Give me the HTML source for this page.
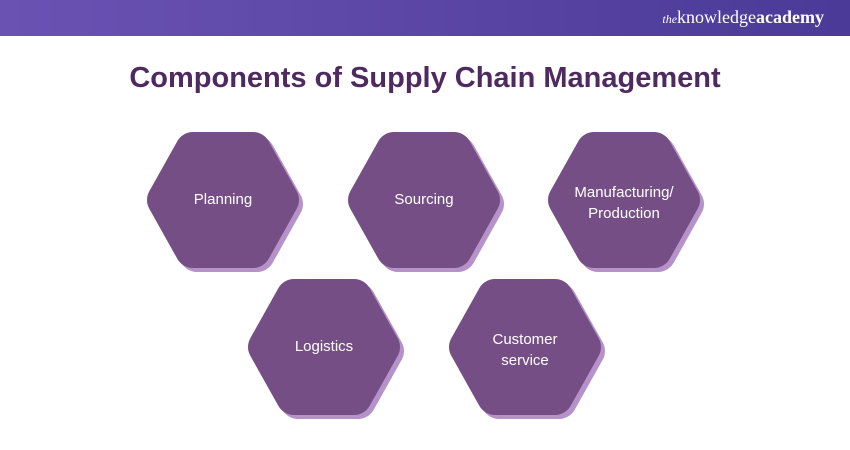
<!DOCTYPE html>
<html><head><style>
body{margin:0;width:850px;height:450px;background:#fff;overflow:hidden;font-family:"Liberation Sans",sans-serif}
.bar{position:absolute;left:0;top:0;width:850px;height:36px;background:linear-gradient(90deg,#6a52b3,#4b3a97)}
.logo{position:absolute;right:26px;top:7px;color:#fff;font-family:"Liberation Serif",serif;font-size:18px}
h1{position:absolute;top:62px;left:0;width:850px;text-align:center;margin:0;font-size:29px;color:#4e2a60;font-weight:bold}
svg{position:absolute;left:0;top:0}
</style></head><body>
<div class="bar"></div>
<div class="logo"><i style="font-size:12px">the</i>knowledge<b>academy</b></div>
<h1>Components of Supply Chain Management</h1>
<svg width="850" height="450" font-family="Liberation Sans, sans-serif" font-size="15" fill="#fff">
<defs>
<path id="h" d="M-58,0 L-30,-50 L30,-50 L58,0 L30,50 L-30,50 Z" stroke-linejoin="round" stroke-width="36"/>
</defs>
<g>
<use href="#h" transform="translate(227,204)" fill="#b592c8" stroke="#b592c8"/>
<use href="#h" transform="translate(223,200)" fill="#764e86" stroke="#764e86"/>
<use href="#h" transform="translate(428,204)" fill="#b592c8" stroke="#b592c8"/>
<use href="#h" transform="translate(424,200)" fill="#764e86" stroke="#764e86"/>
<use href="#h" transform="translate(628,204)" fill="#b592c8" stroke="#b592c8"/>
<use href="#h" transform="translate(624,200)" fill="#764e86" stroke="#764e86"/>
<use href="#h" transform="translate(328,351)" fill="#b592c8" stroke="#b592c8"/>
<use href="#h" transform="translate(324,347)" fill="#764e86" stroke="#764e86"/>
<use href="#h" transform="translate(529,351)" fill="#b592c8" stroke="#b592c8"/>
<use href="#h" transform="translate(525,347)" fill="#764e86" stroke="#764e86"/>
</g>
<g text-anchor="middle">
<text x="223" y="204">Planning</text>
<text x="424" y="204">Sourcing</text>
<text x="624" y="197">Manufacturing/</text>
<text x="624" y="218">Production</text>
<text x="324" y="351">Logistics</text>
<text x="525" y="344">Customer</text>
<text x="525" y="365">service</text>
</g>
</svg>
</body></html>
